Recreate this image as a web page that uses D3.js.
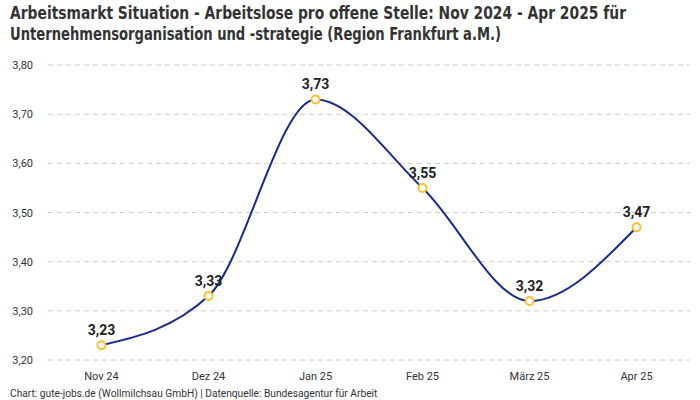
<!DOCTYPE html>
<html><head><meta charset="utf-8">
<script src="https://cdn.jsdelivr.net/npm/d3@7"></script>
<style>
body{margin:0;background:#fff;}
text{font-family:Roboto,"Noto Sans",sans-serif;}
.title{font-family:"Liberation Sans Narrow","DejaVu Sans Condensed",Roboto,sans-serif;font-weight:bold;font-size:17px;fill:#333;}
</style></head>
<body>
<svg id="c" width="700" height="400"></svg>
<script>
const categories = ["Nov 24","Dez 24","Jan 25","Feb 25","März 25","Apr 25"];
const values = [3.23,3.33,3.73,3.55,3.32,3.47];
const yTicks = [3.2,3.3,3.4,3.5,3.6,3.7,3.8];
const titleLines = ["Arbeitsmarkt Situation - Arbeitslose pro offene Stelle: Nov 2024 - Apr 2025 für","Unternehmensorganisation und -strategie (Region Frankfurt a.M.)"];
const titleWidths = [616,491];
const footer = "Chart: gute-jobs.de (Wollmilchsau GmbH) | Datenquelle: Bundesagentur für Arbeit";

const svg = d3.select("#c");
const fmt = v => v.toFixed(2).replace(".", ",");
const x = d3.scalePoint().domain(categories).range([48,690]).padding(0.5);
const y = d3.scaleLinear().domain([3.2,3.8]).range([360,65]);

svg.selectAll(".title").data(titleLines).join("text").attr("class","title")
  .attr("x",10).attr("y",(d,i)=>19+i*21)
  .attr("textLength",(d,i)=>titleWidths[i]).attr("lengthAdjust","spacingAndGlyphs")
  .text(d=>d);

const grid = svg.append("g");
grid.selectAll("line").data(yTicks).join("line")
  .attr("x1",48).attr("x2",690).attr("y1",d=>y(d)).attr("y2",d=>y(d))
  .attr("stroke","#ccc").attr("stroke-dasharray","5,4").attr("stroke-width",1);
grid.selectAll("text").data(yTicks).join("text")
  .attr("x",33).attr("y",d=>y(d)+4).attr("text-anchor","end")
  .attr("font-size",11).attr("fill","#333").text(fmt);

svg.append("g").selectAll("text").data(categories).join("text")
  .attr("x",d=>x(d)).attr("y",380).attr("text-anchor","middle")
  .attr("font-size",11).attr("fill","#333").text(d=>d);

const line = d3.line().x((d,i)=>x(categories[i])).y(d=>y(d)).curve(d3.curveMonotoneX);
svg.append("path").datum(values).attr("d",line).attr("fill","none")
  .attr("stroke","#1a2b8f").attr("stroke-width",2);

svg.append("g").selectAll("circle").data(values).join("circle")
  .attr("cx",(d,i)=>x(categories[i])).attr("cy",d=>y(d)).attr("r",4)
  .attr("fill","#fff").attr("stroke","#fbc02d").attr("stroke-width",2);

svg.append("g").selectAll("text").data(values).join("text")
  .attr("x",(d,i)=>x(categories[i])).attr("y",d=>y(d)-10).attr("text-anchor","middle")
  .attr("font-size",14).attr("font-weight","bold").attr("fill","#222").text(fmt);

svg.append("text").attr("x",10).attr("y",397).attr("font-size",10.2).attr("fill","#333").text(footer);
</script>
</body></html>
